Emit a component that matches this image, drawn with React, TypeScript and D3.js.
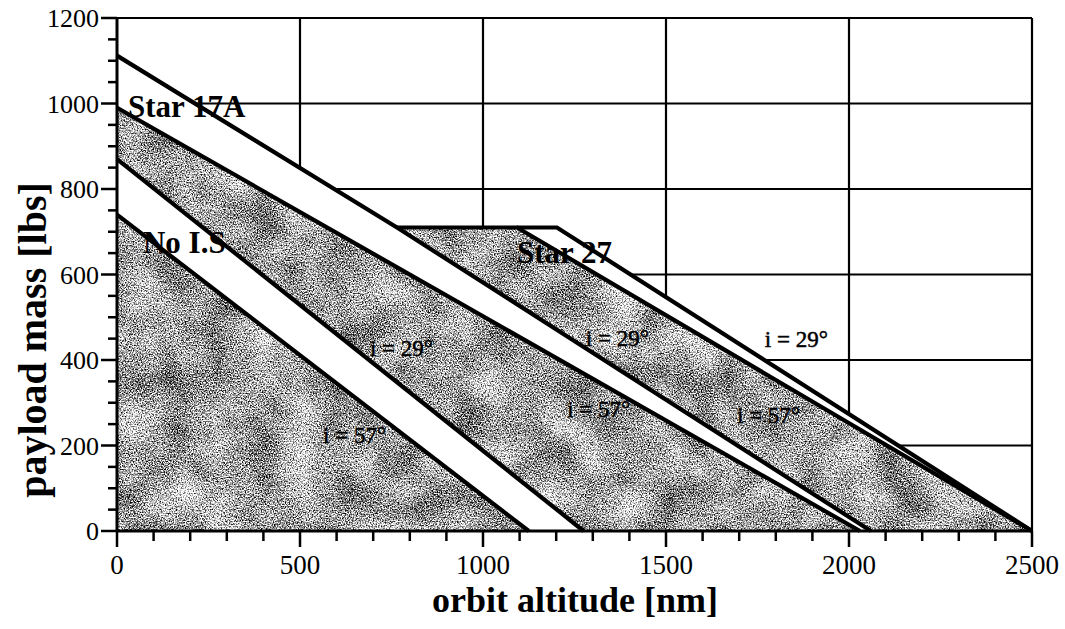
import React, { useEffect, useRef } from 'react';
import * as d3 from 'd3';

const WIDTH = 1065;
const HEIGHT = 629;

// axis ranges and ticks
const X_DOMAIN: [number, number] = [0, 2500];
const Y_DOMAIN: [number, number] = [0, 1200];
const X_MAJOR = [0, 500, 1000, 1500, 2000, 2500];
const X_MINOR = d3.range(0, 2501, 100);
const Y_MAJOR = [0, 200, 400, 600, 800, 1000, 1200];
const Y_MINOR = d3.range(0, 1201, 50);

// performance lines [altitude nm, payload lbs]
const noIS57: [number, number][] = [[0, 740], [1125, 0]];
const noIS29: [number, number][] = [[0, 870], [1275, 0]];
const star17A57: [number, number][] = [[0, 990], [2030, 0]];
const star17A29: [number, number][] = [[0, 1112], [765, 710], [2060, 0]];
const star2757: [number, number][] = [[765, 710], [1093, 710], [2500, 0]];
const star2729: [number, number][] = [[1093, 710], [1202, 710], [2500, 0]];

const BIG_LABELS = [
  { text: 'Star 17A', x: 30, y: 968 },
  { text: 'No I.S', x: 71, y: 650 },
  { text: 'Star 27', x: 1093, y: 627 },
];

const SMALL_LABELS = [
  { text: 'i = 57°', x: 563, y: 206 },
  { text: 'i = 29°', x: 691, y: 409 },
  { text: 'i = 57°', x: 1230, y: 267 },
  { text: 'i = 29°', x: 1281, y: 433 },
  { text: 'i = 57°', x: 1694, y: 253 },
  { text: 'i = 29°', x: 1770, y: 430 },
];

const margin = { left: 117, right: 33, top: 18, bottom: 98 };
const font = '"Liberation Serif", "Times New Roman", serif';

export default function App() {
  const ref = useRef<SVGSVGElement>(null);

  useEffect(() => {
    if (!ref.current) return;
    const svg = d3.select(ref.current);
    svg.selectAll('*').remove();

    const x = d3.scaleLinear().domain(X_DOMAIN).range([margin.left, WIDTH - margin.right]);
    const y = d3.scaleLinear().domain(Y_DOMAIN).range([HEIGHT - margin.bottom, margin.top]);
    const line = d3.line<[number, number]>().x(d => x(d[0])).y(d => y(d[1]));

    // grainy shading filter (scanned stipple look)
    const defs = svg.append('defs');
    const f = defs.append('filter')
      .attr('id', 'grain')
      .attr('x', 0).attr('y', 0).attr('width', 1).attr('height', 1)
      .attr('color-interpolation-filters', 'sRGB');
    f.append('feTurbulence').attr('type', 'fractalNoise').attr('baseFrequency', 0.75)
      .attr('numOctaves', 3).attr('seed', 7).attr('result', 'fine');
    f.append('feColorMatrix').attr('in', 'fine').attr('type', 'matrix')
      .attr('values', '1 0 0 0 0  1 0 0 0 0  1 0 0 0 0  0 0 0 0 1').attr('result', 'fineO');
    f.append('feTurbulence').attr('type', 'fractalNoise').attr('baseFrequency', 0.025)
      .attr('numOctaves', 2).attr('seed', 3).attr('result', 'coarse');
    f.append('feColorMatrix').attr('in', 'coarse').attr('type', 'matrix')
      .attr('values', '1 0 0 0 0  1 0 0 0 0  1 0 0 0 0  0 0 0 0 1').attr('result', 'coarseO');
    f.append('feComposite').attr('in', 'fineO').attr('in2', 'coarseO').attr('operator', 'arithmetic')
      .attr('k1', 0).attr('k2', 1).attr('k3', 0.3).attr('k4', -0.15).attr('result', 'mix');
    f.append('feColorMatrix').attr('in', 'mix').attr('type', 'matrix')
      .attr('values', '-2.6 0 0 0 1.95  -2.6 0 0 0 1.95  -2.6 0 0 0 1.95  0 0 0 0 1').attr('result', 'tex');
    f.append('feComposite').attr('in', 'tex').attr('in2', 'SourceAlpha').attr('operator', 'in');

    // grid
    const grid = svg.append('g').attr('stroke', '#000').attr('stroke-width', 2.2);
    X_MAJOR.slice(1).forEach(v => {
      grid.append('line').attr('x1', x(v)).attr('x2', x(v)).attr('y1', y(0)).attr('y2', y(1200));
    });
    Y_MAJOR.slice(1).forEach(v => {
      grid.append('line').attr('x1', x(0)).attr('x2', x(2500)).attr('y1', y(v)).attr('y2', y(v));
    });

    // opaque envelope (covers grid under the outer curves)
    const envelope: [number, number][] = [
      [0, 0], ...star17A29.slice(0, 2), ...star2729.slice(1), [0, 0],
    ];
    svg.append('path').datum(envelope).attr('d', line).attr('fill', '#fff');

    // shaded regions
    const regionA: [number, number][] = [[0, 0], ...noIS57, [0, 0]];
    const regionB: [number, number][] = [...noIS29, ...star17A57.slice().reverse()];
    const regionC: [number, number][] = [
      ...star2757, ...star17A29.slice(1).reverse(),
    ];
    const shade = svg.append('g').attr('filter', 'url(#grain)');
    [regionA, regionB, regionC].forEach(r => {
      shade.append('path').datum(r).attr('d', line).attr('fill', '#888');
    });

    // curves
    [noIS57, noIS29, star17A57, star17A29, star2757, star2729].forEach(c => {
      svg.append('path').datum(c).attr('d', line)
        .attr('fill', 'none').attr('stroke', '#000')
        .attr('stroke-width', 4.2).attr('stroke-linejoin', 'miter');
    });

    // labels
    BIG_LABELS.forEach(l => {
      svg.append('text').attr('x', x(l.x)).attr('y', y(l.y))
        .attr('font-family', font)
        .attr('font-weight', 'bold').attr('font-size', 31).text(l.text);
    });
    SMALL_LABELS.forEach(l => {
      svg.append('text').attr('x', x(l.x)).attr('y', y(l.y))
        .attr('font-family', font)
        .attr('stroke', '#000').attr('stroke-width', 0.5)
        .attr('font-size', 23).text(l.text);
    });

    // axes
    const ax = svg.append('g').attr('stroke', '#000');
    ax.append('line').attr('x1', x(0)).attr('x2', x(2500)).attr('y1', y(0)).attr('y2', y(0)).attr('stroke-width', 3);
    ax.append('line').attr('x1', x(0)).attr('x2', x(0)).attr('y1', y(0)).attr('y2', y(1200)).attr('stroke-width', 3);
    X_MINOR.forEach(v => {
      const major = X_MAJOR.includes(v);
      ax.append('line').attr('x1', x(v)).attr('x2', x(v))
        .attr('y1', y(0)).attr('y2', y(0) + (major ? 16 : 10)).attr('stroke-width', 2.5);
    });
    Y_MINOR.forEach(v => {
      const major = Y_MAJOR.includes(v);
      ax.append('line').attr('x1', x(0)).attr('x2', x(0) - (major ? 16 : 9))
        .attr('y1', y(v)).attr('y2', y(v)).attr('stroke-width', 2.5);
    });

    X_MAJOR.forEach(v => {
      svg.append('text').attr('x', x(v)).attr('y', y(0) + 43)
        .attr('text-anchor', 'middle').attr('font-family', font).attr('font-size', 27).text(v);
    });
    Y_MAJOR.forEach(v => {
      svg.append('text').attr('x', x(0) - 18).attr('y', y(v))
        .attr('dy', '0.35em').attr('text-anchor', 'end')
        .attr('font-family', font).attr('font-size', 26).text(v);
    });

    svg.append('text').attr('x', 575).attr('y', 612)
      .attr('text-anchor', 'middle').attr('font-family', font)
      .attr('font-weight', 'bold').attr('font-size', 36).text('orbit altitude [nm]');
    svg.append('text').attr('transform', 'translate(46,340) rotate(-90)')
      .attr('text-anchor', 'middle').attr('font-family', font)
      .attr('font-weight', 'bold').attr('font-size', 40).text('payload mass [lbs]');
  }, []);

  return (
    <div style={{ position: 'absolute', left: 0, top: 0 }}>
      <svg ref={ref} width={WIDTH} height={HEIGHT} style={{ background: '#fff', display: 'block' }} />
    </div>
  );
}
